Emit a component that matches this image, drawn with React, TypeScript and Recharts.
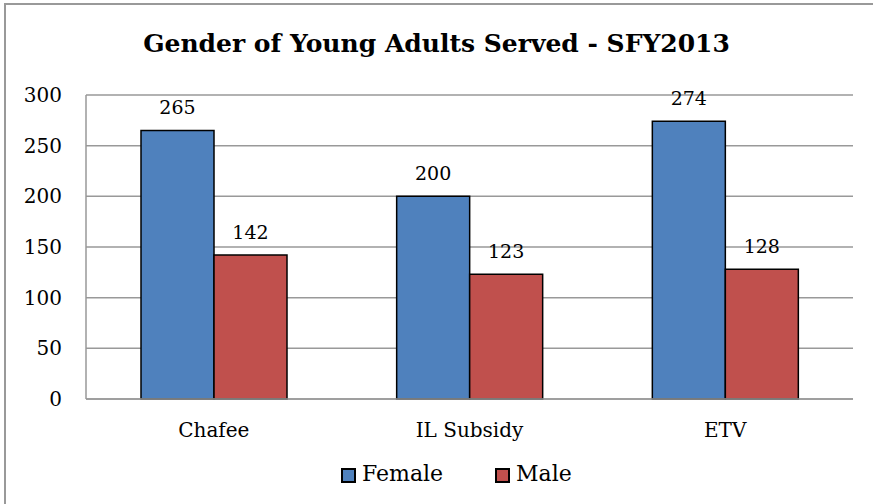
import { BarChart, Bar, XAxis, YAxis, CartesianGrid, LabelList } from "recharts";

// 데이터
const programs = ["Chafee", "IL Subsidy", "ETV"];
const female = [265, 200, 274];
const male = [142, 123, 128];
const yTicks = [0, 50, 100, 150, 200, 250, 300];

const FONT = "'DejaVu Serif', 'Liberation Serif', serif";

const data = programs.map((name, i) => ({
  name,
  Female: female[i],
  Male: male[i],
}));

const legendItems = [
  { label: "Female", color: "#4F81BD", left: 341 },
  { label: "Male", color: "#C0504D", left: 495 },
];

const App = () => {
  return (
    <div
      style={{
        position: "absolute",
        left: 0,
        top: 0,
        width: 873,
        height: 504,
        background: "#fff",
        fontFamily: FONT,
        overflow: "hidden",
      }}
    >
      {/* 테두리: 위/왼쪽만 보임 */}
      <div
        style={{
          position: "absolute",
          left: 4,
          top: 3,
          width: 900,
          height: 540,
          border: "2px solid #999",
          boxSizing: "border-box",
        }}
      />
      <div
        style={{
          position: "absolute",
          left: 0,
          top: 29,
          width: 873,
          textAlign: "center",
          fontFamily: FONT,
          fontWeight: "bold",
          fontSize: 25,
          color: "#000",
        }}
      >
        Gender of Young Adults Served - SFY2013
      </div>
      <div style={{ position: "absolute", left: 0, top: 0 }}>
        <BarChart
          width={873}
          height={504}
          data={data}
          margin={{ top: 95, right: 20, left: 0, bottom: 75 }}
          barCategoryGap={55}
          barGap={0}
        >
          <CartesianGrid vertical={false} stroke="#999" strokeWidth={1.5} />
          <XAxis
            dataKey="name"
            height={30}
            axisLine={{ stroke: "#999", strokeWidth: 1.5 }}
            tickLine={false}
            tickSize={0}
            tickMargin={24}
            tick={{ fontFamily: FONT, fontSize: 20, fill: "#000" }}
          />
          <YAxis
            width={86}
            domain={[0, 300]}
            ticks={yTicks}
            axisLine={{ stroke: "#999", strokeWidth: 1.5 }}
            tickLine={false}
            tickSize={0}
            tickMargin={24}
            tick={{ fontFamily: FONT, fontSize: 20, fill: "#000" }}
          />
          <Bar dataKey="Female" fill="#4F81BD" stroke="#000" strokeWidth={1.5} isAnimationActive={false}>
            <LabelList dataKey="Female" position="top" offset={16} style={{ fontFamily: FONT, fontSize: 19, fill: "#000" }} />
          </Bar>
          <Bar dataKey="Male" fill="#C0504D" stroke="#000" strokeWidth={1.5} isAnimationActive={false}>
            <LabelList dataKey="Male" position="top" offset={16} style={{ fontFamily: FONT, fontSize: 19, fill: "#000" }} />
          </Bar>
        </BarChart>
      </div>
      {legendItems.map((it) => (
        <div
          key={it.label}
          style={{
            position: "absolute",
            left: it.left,
            top: 460,
            display: "flex",
            alignItems: "center",
            fontFamily: FONT,
            fontSize: 22,
            color: "#000",
            lineHeight: "28px",
          }}
        >
          <span
            style={{
              width: 15,
              height: 15,
              background: it.color,
              border: "2px solid #000",
              boxSizing: "border-box",
              marginRight: 6,
              marginTop: 3,
            }}
          />
          <span>{it.label}</span>
        </div>
      ))}
    </div>
  );
};

export default App;
